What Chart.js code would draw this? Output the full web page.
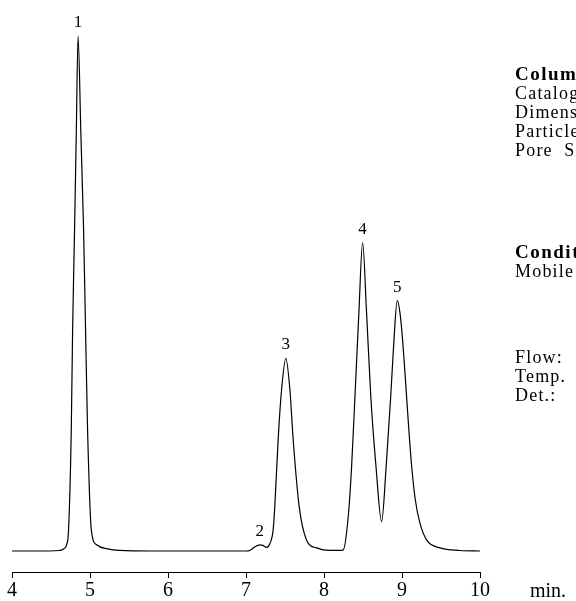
<!DOCTYPE html>
<html>
<head>
<meta charset="utf-8">
<script src="https://cdn.jsdelivr.net/npm/chart.js@4"></script>
<style>
  html, body { margin: 0; padding: 0; background: #fff; }
  #wrap { width: 576px; height: 601px; }
</style>
</head>
<body>
<div id="wrap"><canvas id="chart" width="576" height="601"></canvas></div>
<script>
// retention time (min)
const times = [4.00, 4.30, 4.60, 4.661, 4.700, 4.725, 4.760, 4.777, 4.802, 4.824, 4.847, 4.883, 4.918, 4.943, 4.969, 5.017, 5.085, 5.226, 5.380, 5.80, 6.40,
  7.00, 7.049, 7.113, 7.177, 7.215, 7.263, 7.306, 7.348, 7.369, 7.412, 7.456, 7.511, 7.563, 7.605, 7.682, 7.777, 7.905, 8.076,
  8.204, 8.246, 8.311, 8.354, 8.396, 8.447, 8.495, 8.546, 8.601, 8.665, 8.739, 8.794, 8.855, 8.897, 8.939,
  8.980, 9.020, 9.060, 9.095, 9.124, 9.170, 9.230, 9.317, 9.488, 9.745, 10.00];

// detector signal (relative, peak 1 = 100)
const signal = [0, 0, 0.1, 0.4, 1.2, 4.1, 23.5, 42.9, 62.3, 81, 100, 81, 62.3, 42.9, 23.5, 4.1, 1.2, 0.4, 0.1, 0, 0,
  0, 0.1, 0.8, 1.2, 1.1, 0.7, 1.4, 4.1, 8.6, 21.6, 31.3, 37.4, 31.3, 21.6, 8.6, 2.1, 0.6, 0.1,
  0.1, 0.2, 6.7, 16.4, 29.7, 46.2, 59.9, 46.2, 29.7, 16.7, 5.7, 15.7, 29.9, 41.0, 48.6,
  45.5, 38.5, 29.7, 22.0, 16.4, 10.0, 5.4, 2.1, 0.6, 0.1, 0];

// peak numbers and where they sit
const peakNames = ["1", "2", "3", "4", "5"];
const peakTimes = [4.847, 7.177, 7.511, 8.495, 8.939];
const peakHeights = [100, 1.2, 37.4, 59.9, 48.6];

const xTicks = [4, 5, 6, 7, 8, 9, 10];

const columnText = ["Column", "Catalog No.", "Dimensions", "Particle Size", "Pore  Size"];
const condText = ["Conditions", "Mobile Phase"];
const runText = ["Flow:", "Temp.", "Det.:"];

const serif = "'Liberation Serif', 'Times New Roman', serif";

const labelsPlugin = {
  id: "labels",
  afterDatasetsDraw(c) {
    const ctx = c.ctx;
    const xs = c.scales.x, ys = c.scales.y;
    ctx.save();
    ctx.fillStyle = "#000";
    ctx.textAlign = "center";
    ctx.textBaseline = "alphabetic";
    ctx.font = "17px " + serif;
    peakNames.forEach((n, i) => {
      ctx.fillText(n, xs.getPixelForValue(peakTimes[i]), ys.getPixelForValue(peakHeights[i]) - 9);
    });

    ctx.font = "20px " + serif;
    ctx.fillText("min.", 548, 597);

    // side panel, runs off the right edge like the original
    ctx.textAlign = "left";
    ctx.letterSpacing = "1.5px";
    ctx.font = "bold 19px " + serif;
    ctx.fillText(columnText[0], 515, 80);
    ctx.fillText(condText[0], 515, 258);
    ctx.letterSpacing = "1.2px";
    ctx.font = "18px " + serif;
    for (let i = 1; i < columnText.length; i++) ctx.fillText(columnText[i], 515, 80 + i * 19);
    ctx.fillText(condText[1], 515, 277);
    runText.forEach((t, i) => ctx.fillText(t, 515, 363 + i * 19));
    ctx.restore();
  }
};

new Chart(document.getElementById("chart"), {
  type: "line",
  data: {
    datasets: [{
      data: times.map((t, i) => ({ x: t, y: signal[i] })),
      borderColor: "#000",
      borderWidth: 1.2,
      pointRadius: 0,
      fill: false,
      cubicInterpolationMode: "monotone"
    }]
  },
  options: {
    responsive: false,
    animation: false,
    layout: { padding: { left: 12, right: 96, top: 10, bottom: 0 } },
    plugins: { legend: { display: false }, tooltip: { enabled: false } },
    scales: {
      x: {
        type: "linear",
        min: 4,
        max: 10,
        afterBuildTicks: s => { s.ticks = xTicks.map(v => ({ value: v })); },
        afterFit: s => { s.height = 29; },
        border: { color: "#000", width: 1 },
        grid: { drawOnChartArea: false, drawTicks: true, tickLength: 6, color: "#000" },
        ticks: { color: "#000", font: { family: serif, size: 20 }, padding: 1, maxRotation: 0 }
      },
      y: {
        display: false,
        min: -4.08,
        max: 105.05
      }
    }
  },
  plugins: [labelsPlugin]
});
</script>
</body>
</html>
